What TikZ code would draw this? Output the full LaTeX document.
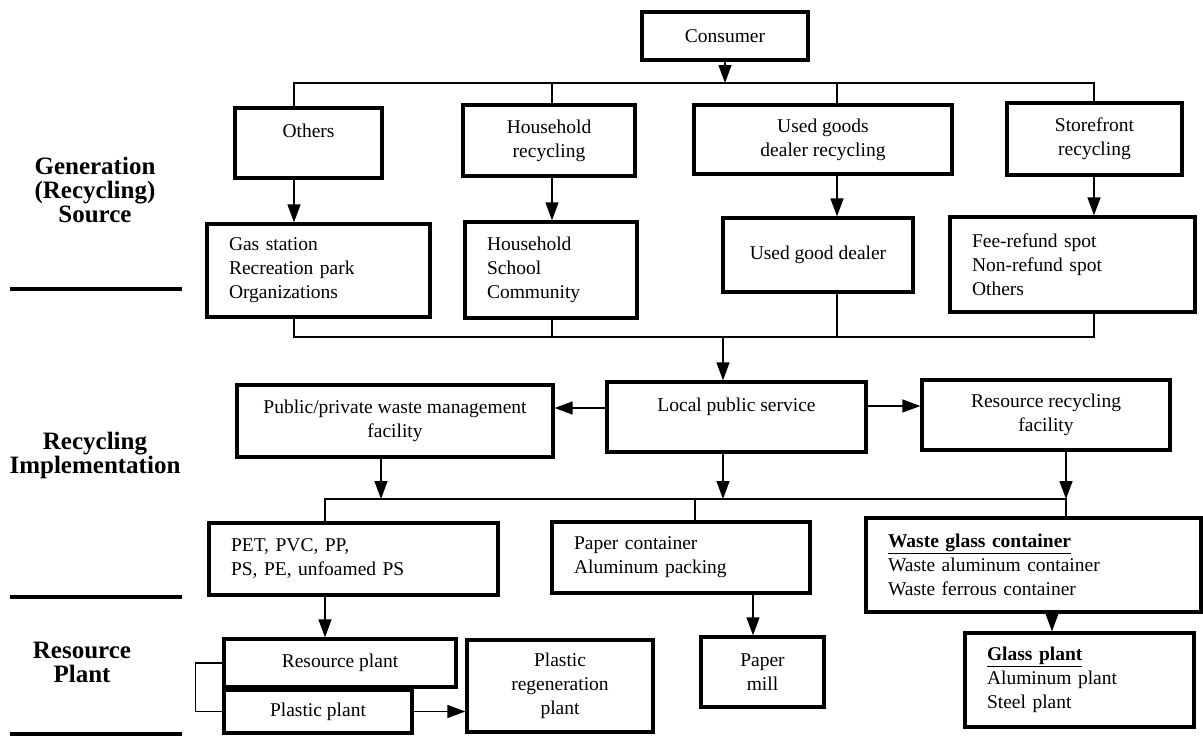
\documentclass[tikz,border=0pt]{standalone}
\usepackage{fontspec}
\setmainfont{Liberation Serif}
\usetikzlibrary{arrows.meta}

\begin{document}
\begin{tikzpicture}[x=1pt, y=-1pt,
  box/.style={draw, line width=3.3pt, inner sep=0pt, align=center, font=\fontsize{19.5}{24}\selectfont},
  listbox/.style={box, align=left, inner xsep=22pt},
  stage/.style={align=center, font=\fontsize{25}{24}\selectfont\bfseries},
  sep/.style={line width=3.3pt},
  link/.style={line width=1.4pt},
  arr/.style={link, -{Triangle[length=18pt,width=13pt]}}
]
\useasboundingbox (0,0) rectangle (1203,736);

% stage labels on the left
\node[stage] (gen) at (95,190) {Generation\\(Recycling)\\Source};
\node[stage] (impl) at (95,455) {Recycling\\Implementation};
\node[stage] (plant) at (82,662) {Resource\\Plant};
\draw[sep] (10,289) -- (182,289);
\draw[sep] (10,597) -- (182,597);
\draw[sep] (10,734) -- (182,734);

% generation source
\node[box, minimum width=166pt, minimum height=48pt] (consumer) at (725,36) {Consumer};
\node[box, minimum width=147pt, minimum height=70pt] (others) at (308.5,143) {Others\\\mbox{}};
\node[box, minimum width=172pt, minimum height=71pt] (hhrec) at (549,140.5) {Household\\recycling};
\node[box, minimum width=258pt, minimum height=69pt] (usedrec) at (823,139.5) {Used goods\\dealer recycling};
\node[box, minimum width=175pt, minimum height=72pt] (storerec) at (1094.5,139) {Storefront\\recycling};

\node[listbox, text width=179pt, minimum height=93pt] (gas) at (318.5,270.5) {Gas station\\Recreation park\\Organizations};
\node[listbox, text width=128pt, minimum height=96pt] (hhlist) at (551,270) {Household\\School\\Community};
\node[box, minimum width=190pt, minimum height=74pt] (dealer) at (818,255) {Used good dealer};
\node[listbox, text width=201pt, minimum height=95pt] (spots) at (1072.5,264.5) {Fee-refund spot\\Non-refund spot\\Others};

\coordinate (b1l) at (294,83);
\coordinate (b1a) at (552,83);
\coordinate (b1b) at (837,83);
\coordinate (b1r) at (1094,83);
\draw[arr] (consumer.south) -- (consumer.south |- b1l);
\draw[link] (others.north -| b1l) |- (b1r) -- (storerec.north -| b1r);
\draw[link] (b1a) -- (hhrec.north -| b1a);
\draw[link] (b1b) -- (usedrec.north -| b1b);

\draw[arr] (others.south -| b1l) -- (gas.north -| b1l);
\draw[arr] (hhrec.south -| b1a) -- (hhlist.north -| b1a);
\draw[arr] (usedrec.south -| b1b) -- (dealer.north -| b1b);
\draw[arr] (storerec.south -| b1r) -- (spots.north -| b1r);

% recycling implementation
\node[box, minimum width=316pt, minimum height=72pt] (pubfac) at (395,421) {Public/private waste management\\facility};
\node[box, minimum width=259pt, minimum height=70pt] (local) at (736.5,417) {Local public service\\\mbox{}};
\node[box, minimum width=248pt, minimum height=70pt] (resfac) at (1046,415) {Resource recycling\\facility};

\coordinate (b2l) at (294,337);
\coordinate (b2m) at (723,337);
\coordinate (b2r) at (1094,337);
\draw[link] (gas.south -| b2l) |- (b2r) -- (spots.south -| b2r);
\draw[link] (hhlist.south -| b1a) -- (b1a |- b2l);
\draw[link] (dealer.south -| b1b) -- (b1b |- b2l);
\draw[arr] (b2m) -- (b2m |- local.north);

\coordinate (la) at ([yshift=9pt]local.west);
\coordinate (lb) at ([yshift=11pt]local.east);
\draw[arr] (la) -- (la -| pubfac.east);
\draw[arr] (lb) -- (lb -| resfac.west);

\node[listbox, text width=245pt, minimum height=72pt] (pet) at (353.5,559) {PET, PVC, PP,\\PS, PE, unfoamed PS};
\node[listbox, text width=214pt, minimum height=71pt] (paper) at (681,557.5) {Paper container\\Aluminum packing};
\node[listbox, text width=291pt, minimum height=94pt] (glass) at (1033.5,565) {\underline{\textbf{Waste glass container}}\\Waste aluminum container\\Waste ferrous container};

\coordinate (c1) at (325,499);
\coordinate (c2) at (381,499);
\coordinate (c3) at (695,499);
\coordinate (c4) at (723,499);
\coordinate (c5) at (1066,499);
\draw[arr] (pubfac.south -| c2) -- (c2);
\draw[arr] (local.south -| c4) -- (c4);
\draw[arr] (resfac.south -| c5) -- (c5);
\draw[link] (pet.north -| c1) |- (c5) -- (glass.north -| c5);
\draw[link] (c3) -- (paper.north -| c3);

% resource plant
\node[box, minimum width=232pt, minimum height=48pt] (resplant) at (340,663) {Resource plant};
\node[box, minimum width=188pt, minimum height=43pt] (plplant) at (318,711.5) {Plastic plant};
\node[box, minimum width=186pt, minimum height=92pt] (regen) at (560,686) {Plastic\\regeneration\\plant};
\node[box, minimum width=123pt, minimum height=70pt] (mill) at (762.5,672) {Paper\\mill};
\node[listbox, text width=185pt, minimum height=94pt] (glplant) at (1079.5,680) {\underline{\textbf{Glass plant}}\\Aluminum plant\\Steel plant};

\coordinate (d2) at (753,0);
\coordinate (d3) at (1052,0);
\draw[arr] (pet.south -| c1) -- (resplant.north -| c1);
\draw[arr] (paper.south -| d2) -- (mill.north -| d2);
\draw[arr] (glass.south -| d3) -- (glplant.north -| d3);
\draw[link] (resplant.west) -- ++(-27,0) |- (plplant.west);
\draw[arr] (plplant.east) -- (plplant.east -| regen.west);
\end{tikzpicture}
\end{document}
